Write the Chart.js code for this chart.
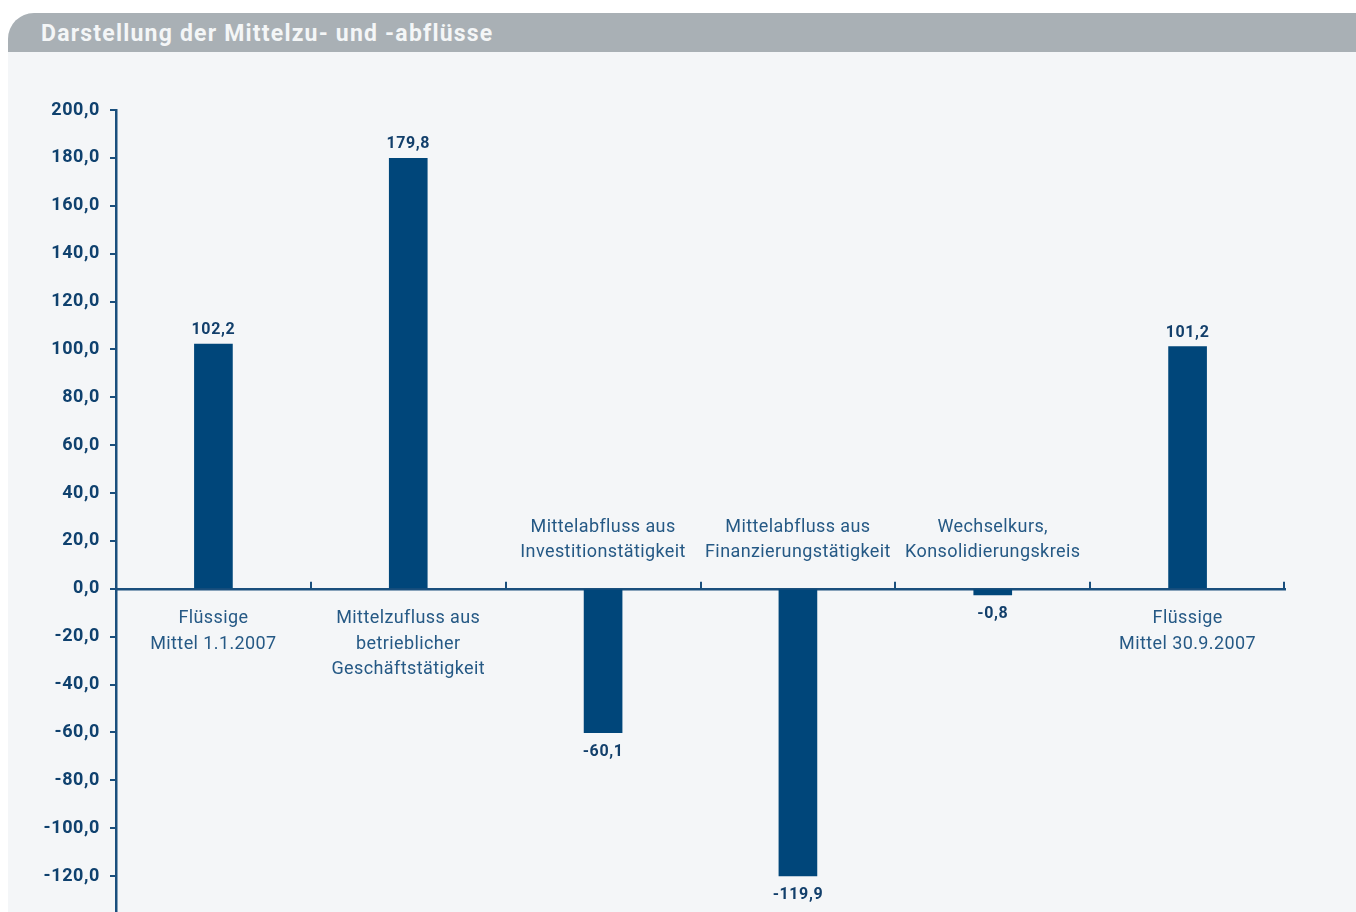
<!DOCTYPE html>
<html>
<head>
<meta charset="utf-8">
<script src="https://cdn.jsdelivr.net/npm/chart.js@4"></script>
<style>
  html, body { margin: 0; padding: 0; background: #ffffff; }
  body { width: 1356px; height: 912px; position: relative; overflow: hidden; font-family: Roboto, sans-serif; }
  #panel {
    position: absolute; left: 8px; top: 13px; right: 0; bottom: 0;
    background: #f4f6f8; border-top-left-radius: 26px; overflow: hidden;
  }
  #header {
    height: 39px; background: #a9b0b5; color: #f4f6f7;
    font: bold 23px Roboto, sans-serif; line-height: 41px; padding-left: 33px;
    letter-spacing: 1.2px;
  }
  #chart { position: absolute; left: 0; top: 0; }
</style>
</head>
<body>
<div id="panel"><div id="header">Darstellung der Mittelzu- und -abflüsse</div></div>
<canvas id="chart" width="1356" height="912"></canvas>
<script>
const categories = [
  ["Flüssige", "Mittel 1.1.2007"],
  ["Mittelzufluss aus", "betrieblicher", "Geschäftstätigkeit"],
  ["Mittelabfluss aus", "Investitionstätigkeit"],
  ["Mittelabfluss aus", "Finanzierungstätigkeit"],
  ["Wechselkurs,", "Konsolidierungskreis"],
  ["Flüssige", "Mittel 30.9.2007"]
];
const values = [102.2, 179.8, -60.1, -119.9, -0.8, 101.2];
const yTicks = [-120, -100, -80, -60, -40, -20, 0, 20, 40, 60, 80, 100, 120, 140, 160, 180, 200];

const navy = "#00467a";
const axisColor = "#1a4f7d";
const fmt = (v) => v.toFixed(1).replace(".", ",");

// category labels, value labels and the small upward ticks on the zero line
const labelPlugin = {
  id: "labels",
  beforeDraw(chart) {
    chart.ctx.letterSpacing = "0.6px";
  },
  afterDatasetsDraw(chart) {
    const ctx = chart.ctx;
    const x = chart.scales.x;
    const y = chart.scales.y;
    const zero = y.getPixelForValue(0);
    const step = x.width / categories.length;

    ctx.save();
    ctx.strokeStyle = axisColor;
    ctx.lineWidth = 2;
    for (let i = 0; i <= categories.length; i++) {
      const px = Math.round(x.left + i * step) - (i === categories.length ? 1 : 0);
      ctx.beginPath();
      ctx.moveTo(px, zero);
      ctx.lineTo(px, zero - 7);
      ctx.stroke();
    }

    ctx.textAlign = "center";
    ctx.textBaseline = "middle";
    values.forEach((v, i) => {
      const cx = x.getPixelForValue(i);
      const lines = categories[i];
      ctx.fillStyle = "#255985";
      ctx.font = "18px Roboto, sans-serif";
      ctx.letterSpacing = "0.4px";
      if (v >= 0) {
        lines.forEach((t, k) => ctx.fillText(t, cx, zero + 30 + k * 25.5));
      } else {
        lines.forEach((t, k) => ctx.fillText(t, cx, zero - 36 - (lines.length - 1 - k) * 25.5));
      }
      ctx.fillStyle = "#123f6b";
      ctx.font = "bold 16px Roboto, sans-serif";
      ctx.letterSpacing = "0.6px";
      const barEnd = y.getPixelForValue(v);
      const bx = chart.getDatasetMeta(0).data[i].x;
      if (v >= 0) {
        ctx.fillText(fmt(v), bx, barEnd - 14);
      } else {
        ctx.fillText(fmt(v), bx, Math.max(barEnd + 19, zero + 25));
      }
    });
    ctx.restore();
  }
};

new Chart(document.getElementById("chart"), {
  type: "bar",
  data: {
    labels: categories,
    datasets: [{
      data: values,
      backgroundColor: navy,
      barThickness: 38,
      minBarLength: 6,
      borderWidth: 0
    }]
  },
  options: {
    responsive: false,
    animation: false,
    layout: { padding: { top: 110, right: 71, bottom: 0, left: 0 } },
    plugins: { legend: { display: false }, tooltip: { enabled: false } },
    scales: {
      x: {
        position: { y: 0 },
        grid: { display: false },
        ticks: { display: false },
        border: { display: true, color: axisColor, width: 2.5 },
        afterFit: (s) => { s.height = 0; }
      },
      y: {
        min: -135,
        max: 200,
        afterBuildTicks: (s) => { s.ticks = yTicks.map((v) => ({ value: v })); },
        afterFit: (s) => { s.width = 116; s.paddingTop = 0; s.paddingBottom = 0; },
        grid: { drawOnChartArea: false, drawTicks: true, tickLength: 6, color: axisColor, lineWidth: 2 },
        border: { display: true, color: axisColor, width: 2.5 },
        ticks: {
          padding: 10,
          color: "#0f416e",
          font: { family: "Roboto, sans-serif", size: 18, weight: "bold" },
          callback: (v) => fmt(v)
        }
      }
    }
  },
  plugins: [labelPlugin]
});
</script>
</body>
</html>
